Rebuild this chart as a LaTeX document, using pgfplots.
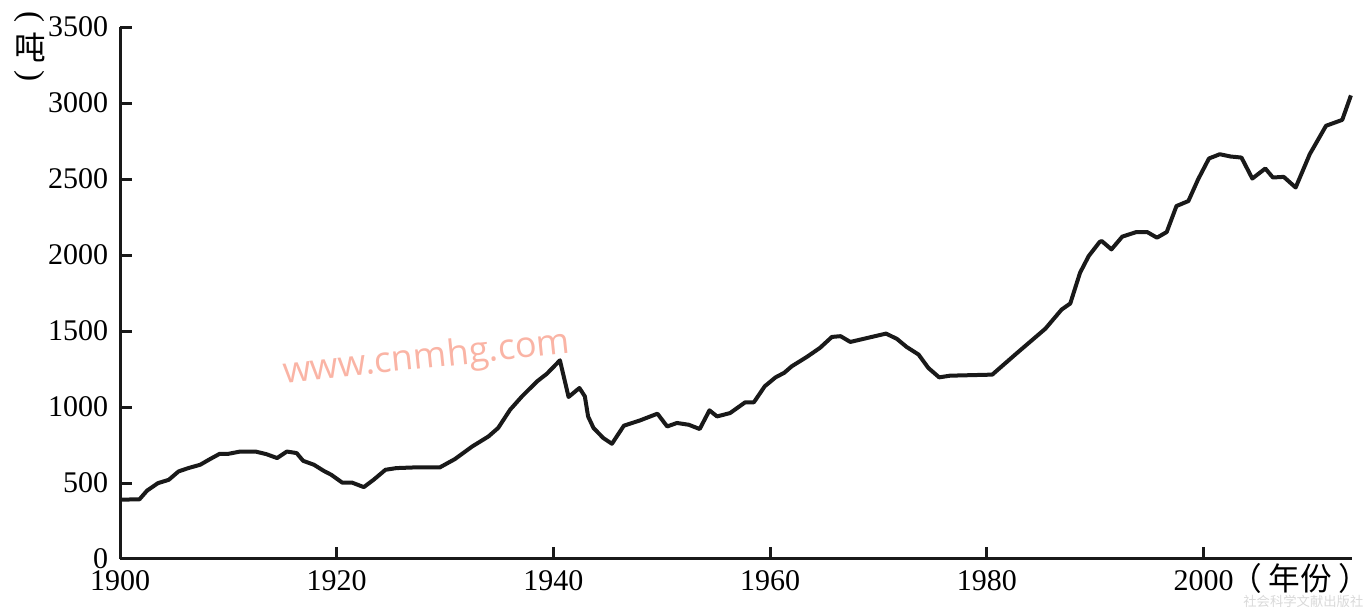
\documentclass[border=0pt]{standalone}
\usepackage{fontspec}
\setmainfont{Liberation Serif}
\newfontfamily\cjk{Noto Sans CJK SC}
\newfontfamily\wmfont{Open Sans}
\usepackage{pgfplots}
\pgfplotsset{compat=1.18}

\pgfplotstableread{
year tons
1900 390
1901.8 393
1902.5 450
1903.5 499
1904.5 521
1905.4 576
1906.3 598
1907.4 620
1908.3 657
1909.2 692
1910 692
1911.1 707
1912.5 707
1913.5 690
1914.5 664
1915.4 707
1916.3 697
1916.9 646
1917.9 620
1918.8 580
1919.5 554
1920.5 503
1921.4 503
1922.5 473
1923.4 521
1924.5 587
1925.5 598
1927 602
1929.5 602
1930.9 657
1932.5 740
1934 806
1934.9 862
1936 982
1937.1 1070
1938.5 1169
1939.4 1219
1940.6 1307
1941.4 1066
1942.4 1125
1942.9 1070
1943.2 938
1943.7 862
1944.6 796
1945.4 758
1946.5 877
1948 912
1949.6 956
1950.5 872
1951.4 895
1952.5 883
1953.5 855
1954.4 978
1955.1 938
1956.3 960
1957.7 1031
1958.5 1031
1959.5 1136
1960.5 1195
1961.3 1225
1962 1268
1963.4 1330
1964.6 1389
1965.7 1461
1966.5 1466
1967.4 1428
1968.6 1448
1970.7 1483
1971.7 1448
1972.6 1395
1973.7 1345
1974.6 1257
1975.6 1195
1976.6 1206
1980.5 1213
1982.7 1350
1985.4 1515
1986.9 1641
1987.7 1681
1988.6 1883
1989.4 1993
1990.4 2085
1990.6 2092
1991.5 2037
1992.5 2121
1993.8 2151
1994.8 2151
1995.7 2114
1996.6 2151
1997.5 2322
1998.6 2355
1999.5 2498
2000.5 2635
2001.5 2663
2002.5 2648
2003.5 2641
2004.5 2503
2005.7 2569
2006.4 2510
2007.4 2514
2008.5 2444
2009.8 2663
2011.3 2850
2012.8 2889
2013.6 3050
}\tons

\definecolor{wmpink}{RGB}{250,180,165}

\begin{document}
\begin{tikzpicture}
\useasboundingbox (-36pt,-14.7pt) rectangle (374.7pt,167.7pt);
\begin{axis}[
    scale only axis,
    width=369.6pt, height=159.6pt,
    xmin=1900, xmax=2013.7, ymin=0, ymax=3500,
    axis x line=bottom, axis y line=left,
    axis line style={-, line width=0.9pt, black!90},
    xtick={1900,1920,...,2000},
    ytick={0,500,...,3500},
    tick align=inside,
    major tick length=3.5pt,
    tick style={line width=0.9pt, black!90},
    ticklabel style={font=\fontsize{9}{10}\selectfont},
    /pgf/number format/1000 sep={},
    /pgf/number format/assume math mode=true,
    clip=false,
]
\addplot[line width=1.2pt, black!90, line join=round] table[x=year, y=tons] {\tons};
\end{axis}
% y-axis unit, written vertically
\node[font=\fontsize{10}{10}\selectfont, inner sep=0pt, rotate=-90] at (-27pt,162.5pt) {(};
\node[font=\cjk\fontsize{9.5}{10}\selectfont, inner sep=0pt] at (-27pt,153.6pt) {吨};
\node[font=\fontsize{10}{10}\selectfont, inner sep=0pt, rotate=-90] at (-27pt,145pt) {)};
% x-axis unit
\node[font=\cjk\fontsize{9.5}{10}\selectfont, anchor=west, inner sep=0pt] at (333pt,-5.7pt) {（\kern2pt 年份\kern2pt ）};
% watermarks
\node[font=\wmfont\fontsize{10.8}{12}\selectfont, text=wmpink, rotate=6] at (92pt,60pt) {www.cnmhg.com};
\node[font=\cjk\fontsize{4}{5}\selectfont, text=black!15, inner sep=0pt] at (355pt,-12.6pt) {社会科学文献出版社};
\end{tikzpicture}
\end{document}
